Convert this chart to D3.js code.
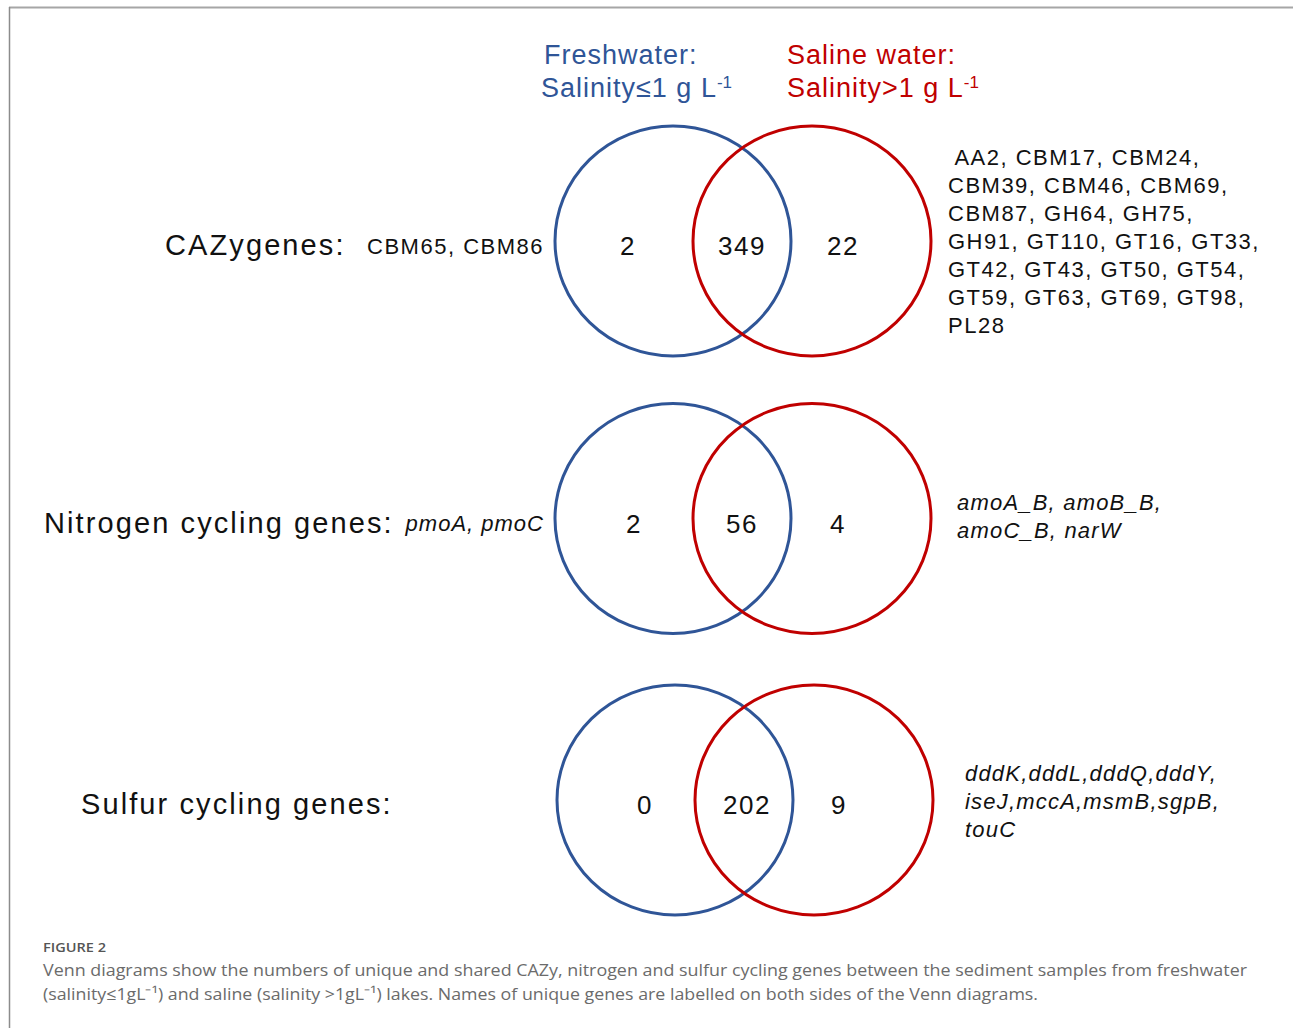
<!DOCTYPE html>
<html>
<head>
<meta charset="utf-8">
<script src="https://cdn.jsdelivr.net/npm/d3@7"></script>
<style>
  body { margin: 0; background: #fff; }
  svg text { font-family: "Liberation Sans", Arial, sans-serif; }
</style>
</head>
<body>
<svg width="1293" height="1028"></svg>
<script>
var svg = d3.select("svg"),
  width = 1293,
  height = 1028;

// the data
var rows = ["CAZy", "Nitrogen", "Sulfur"];
var rowTitles = ["CAZygenes:", "Nitrogen cycling genes:", "Sulfur cycling genes:"];
var freshOnly = [2, 2, 0];
var shared = [349, 56, 202];
var salineOnly = [22, 4, 9];
var freshGenes = ["CBM65, CBM86", "pmoA, pmoC", ""];
var salineGenes = [
  [" AA2, CBM17, CBM24,", "CBM39, CBM46, CBM69,", "CBM87, GH64, GH75,", "GH91, GT110, GT16, GT33,",
   "GT42, GT43, GT50, GT54,", "GT59, GT63, GT69, GT98,", "PL28"],
  ["amoA_B, amoB_B,", "amoC_B, narW"],
  ["dddK,dddL,dddQ,dddY,", "iseJ,mccA,msmB,sgpB,", "touC"]
];
var italicGenes = [false, true, true];

var blue = "#2f5597", red = "#c00000";

// frame
svg.append("line").attr("x1", 9).attr("x2", width).attr("y1", 7.5).attr("y2", 7.5)
  .attr("stroke", "#a6a6a6").attr("stroke-width", 2);
svg.append("line").attr("x1", 9.5).attr("x2", 9.5).attr("y1", 7).attr("y2", height)
  .attr("stroke", "#8c8c8c").attr("stroke-width", 1.5);

// scales
var y = d3.scalePoint().domain(rows).range([241, 800]);
// venn positions: fresh circle, shared, saline circle
var x = d3.scaleOrdinal().domain(["fresh", "shared", "saline"]).range([673, 743, 812]);

// header
var head = svg.append("g").style("font-size", "27px").style("letter-spacing", "1px");
head.append("text").attr("x", 544).attr("y", 64).attr("fill", blue).text("Freshwater:");
var h2 = head.append("text").attr("x", 541).attr("y", 97).attr("fill", blue);
h2.append("tspan").text("Salinity≤1 g L");
h2.append("tspan").attr("dy", -9).style("font-size", "17px").style("letter-spacing", "0px").text("-1");
head.append("text").attr("x", 787).attr("y", 64).attr("fill", red).text("Saline water:");
var h4 = head.append("text").attr("x", 787).attr("y", 97).attr("fill", red);
h4.append("tspan").text("Salinity>1 g L");
h4.append("tspan").attr("dy", -9).style("font-size", "17px").style("letter-spacing", "0px").text("-1");

var g = svg.selectAll(".venn")
  .data(rows)
  .enter().append("g")
  .attr("class", "venn")
  .attr("transform", function(d) { return "translate(0," + y(d) + ")"; });

var dx = [0, 0, 2];
var dy = [0, -2, 0];

g.append("ellipse")
  .attr("cx", function(d, i) { return x("fresh") + dx[i]; })
  .attr("cy", function(d, i) { return dy[i]; })
  .attr("rx", 118).attr("ry", 115)
  .attr("fill", "none").attr("stroke", blue).attr("stroke-width", 3);

g.append("ellipse")
  .attr("cx", function(d, i) { return x("saline") + dx[i]; })
  .attr("cy", function(d, i) { return dy[i]; })
  .attr("rx", 119).attr("ry", 115)
  .attr("fill", "none").attr("stroke", red).attr("stroke-width", 3);

// counts
var countX = [[628, 742, 843], [634, 742, 838], [645, 747, 839]];
g.each(function(d, i) {
  var sel = d3.select(this);
  var vals = [freshOnly[i], shared[i], salineOnly[i]];
  vals.forEach(function(v, j) {
    sel.append("text")
      .attr("x", countX[i][j])
      .attr("y", dy[i] + 5)
      .attr("dy", "0.36em")
      .attr("text-anchor", "middle")
      .style("font-size", "26px")
      .style("letter-spacing", "1.5px")
      .attr("fill", "#111")
      .text(v);
  });
});

// left labels
var titleX = [165, 44, 81];
g.append("text")
  .attr("x", function(d, i) { return titleX[i]; })
  .attr("y", function(d, i) { return dy[i] + 4; })
  .attr("dy", "0.36em")
  .style("font-size", "29px")
  .style("letter-spacing", "2.1px")
  .attr("fill", "#111")
  .text(function(d, i) { return rowTitles[i]; });

g.append("text")
  .attr("x", 544)
  .attr("y", function(d, i) { return dy[i] + 5; })
  .attr("dy", "0.36em")
  .attr("text-anchor", "end")
  .style("font-size", "22px")
  .style("letter-spacing", function(d, i) { return italicGenes[i] ? "1px" : "1.5px"; })
  .style("font-style", function(d, i) { return italicGenes[i] ? "italic" : "normal"; })
  .attr("fill", "#111")
  .text(function(d, i) { return freshGenes[i]; });

// right labels
var listX = [948, 957, 965];
var listTop = [-84, -18, -27];
g.each(function(d, i) {
  d3.select(this).append("text")
    .attr("fill", "#111")
    .style("font-size", "22px")
    .style("letter-spacing", italicGenes[i] ? "1.2px" : "1.5px")
    .style("font-style", italicGenes[i] ? "italic" : "normal")
    .selectAll("tspan")
    .data(salineGenes[i])
    .enter().append("tspan")
    .attr("x", listX[i])
    .attr("y", function(t, k) { return listTop[i] + k * 28; })
    .attr("dy", "0.36em")
    .style("white-space", "pre")
    .attr("xml:space", "preserve")
    .text(function(t) { return t; });
});

// caption
svg.append("text")
  .attr("x", 43).attr("y", 952)
  .attr("fill", "#555")
  .style("font-family", "'Open Sans', sans-serif")
  .style("font-size", "13px")
  .style("font-weight", "600")
  .attr("textLength", 63).attr("lengthAdjust", "spacingAndGlyphs")
  .text("FIGURE 2");

var cap1 = "Venn diagrams show the numbers of unique and shared CAZy, nitrogen and sulfur cycling genes between the sediment samples from freshwater";
var cap2 = "(salinity≤1gL⁻¹) and saline (salinity >1gL⁻¹) lakes. Names of unique genes are labelled on both sides of the Venn diagrams.";
svg.append("text")
  .attr("x", 43).attr("y", 976)
  .attr("fill", "#6b6b6b")
  .style("font-family", "'Open Sans', sans-serif")
  .style("font-size", "17px")
  .attr("textLength", 1204).attr("lengthAdjust", "spacingAndGlyphs")
  .text(cap1);
svg.append("text")
  .attr("x", 43).attr("y", 1000)
  .attr("fill", "#6b6b6b")
  .style("font-family", "'Open Sans', sans-serif")
  .style("font-size", "17px")
  .attr("textLength", 995).attr("lengthAdjust", "spacingAndGlyphs")
  .text(cap2);
</script>
</body>
</html>
